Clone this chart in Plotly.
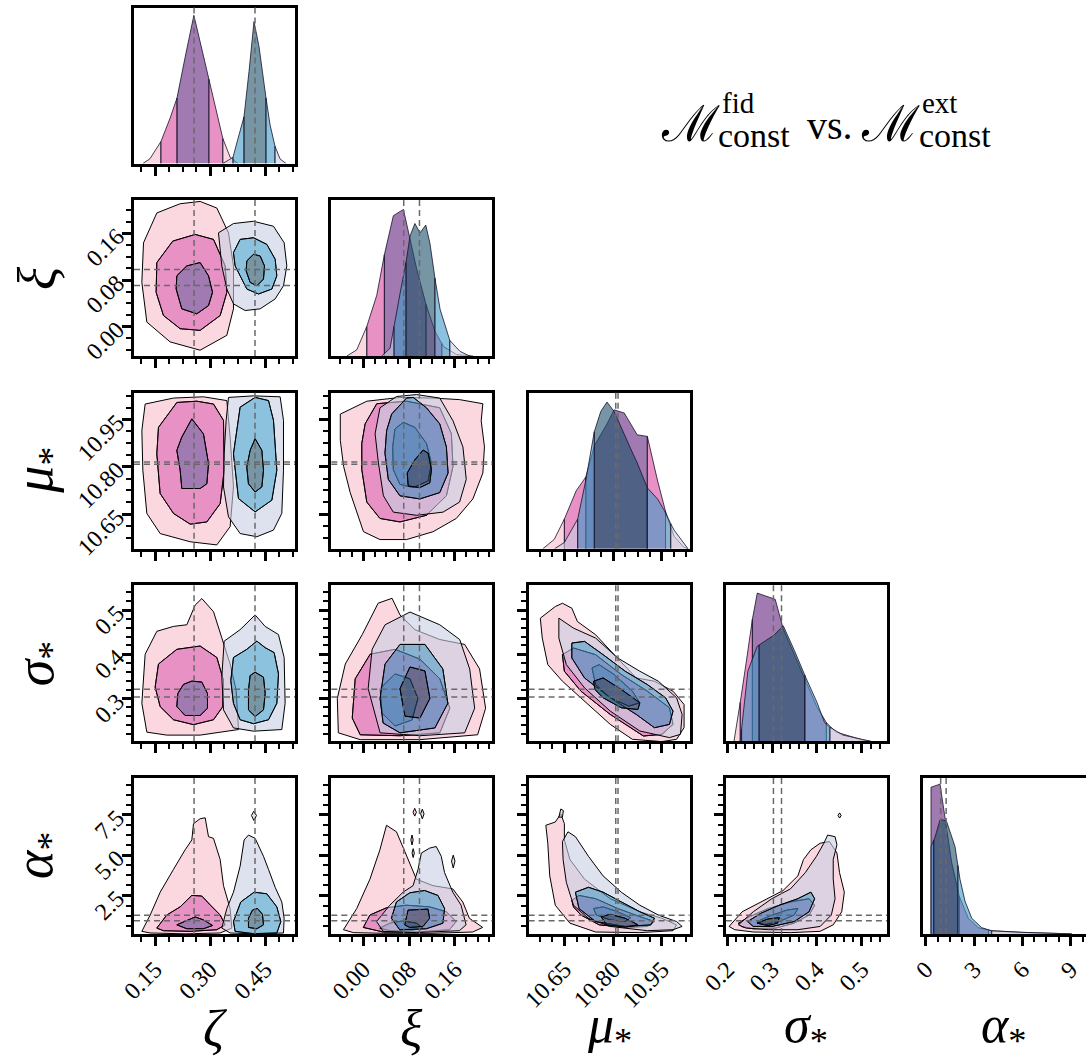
import numpy as np
import plotly.graph_objects as go

W, H = 1086, 1060

# ---------------- labels & ticks ----------------
AXIS_LABELS = ["<i>ζ</i>", "<i>ξ</i>", "<i>μ</i><sub>*</sub>", "<i>σ</i><sub>*</sub>", "<i>α</i><sub>*</sub>"]

ZETA_TICKS = [0.15, 0.30, 0.45]
ZETA_TEXT = ["0.15", "0.30", "0.45"]
XI_TICKS = [0.00, 0.08, 0.16]
XI_TEXT = ["0.00", "0.08", "0.16"]
MU_TICKS = [10.65, 10.80, 10.95]
MU_TEXT = ["10.65", "10.80", "10.95"]
SIGMA_TICKS = [0.2, 0.3, 0.4, 0.5]
SIGMA_TEXT = ["0.2", "0.3", "0.4", "0.5"]
ALPHA_TICKS = [2.5, 5.0, 7.5]
ALPHA_TEXT = ["2.5", "5.0", "7.5"]
ALPHA_DIAG_TICKS = [0, 3, 6, 9]
ALPHA_DIAG_TEXT = ["0", "3", "6", "9"]

# medians (dashed lines): [zeta, xi, mu, sigma, alpha]
FID_MEDIAN = [0.2565, 0.0705, 10.815, 0.303, 0.93]
EXT_MEDIAN = [0.4227, 0.0980, 10.808, 0.321, 1.27]

# ---------------- 1D marginals (x, density, [2s-lo, 1s-lo, 1s-hi, 2s-hi]) ----------------
ZETA_FID_X = [0.117, 0.136, 0.166, 0.191, 0.210, 0.232, 0.256, 0.273, 0.297, 0.314, 0.335, 0.355, 0.376]
ZETA_FID_D = [0.0, 0.03, 0.14, 0.29, 0.42, 0.68, 0.95, 0.78, 0.54, 0.37, 0.16, 0.04, 0.0]
ZETA_FID_Q = [0.166, 0.210, 0.297, 0.335]
ZETA_EXT_X = [0.3355, 0.3627, 0.3764, 0.3927, 0.4064, 0.420, 0.4336, 0.4527, 0.4636, 0.4773, 0.4909, 0.5073]
ZETA_EXT_D = [0.0, 0.04, 0.16, 0.30, 0.59, 0.91, 0.75, 0.42, 0.25, 0.11, 0.03, 0.0]
ZETA_EXT_Q = [0.3627, 0.3927, 0.4527, 0.4773]

XI_FID_X = [-0.029, -0.0116, 0.006, 0.0234, 0.0367, 0.0524, 0.070, 0.0815, 0.093, 0.1095, 0.125, 0.140, 0.163, 0.192]
XI_FID_D = [0.0, 0.04, 0.19, 0.39, 0.65, 0.90, 0.94, 0.75, 0.56, 0.33, 0.16, 0.06, 0.01, 0.0]
XI_FID_Q = [0.006, 0.0367, 0.1095, 0.137]
XI_EXT_X = [0.032, 0.0466, 0.0536, 0.064, 0.0745, 0.0815, 0.090, 0.099, 0.109, 0.1164, 0.125, 0.134, 0.151, 0.169, 0.186]
XI_EXT_D = [0.0, 0.05, 0.19, 0.40, 0.60, 0.77, 0.85, 0.79, 0.84, 0.72, 0.50, 0.30, 0.10, 0.03, 0.0]
XI_EXT_Q = [0.0536, 0.0745, 0.125, 0.151]

MU_FID_X = [10.584, 10.619, 10.650, 10.686, 10.716, 10.742, 10.781, 10.803, 10.834, 10.854, 10.874, 10.905, 10.936, 10.956, 10.987, 11.017, 11.03]
MU_FID_D = [0.0, 0.06, 0.19, 0.37, 0.46, 0.66, 0.80, 0.89, 0.87, 0.80, 0.73, 0.72, 0.44, 0.27, 0.08, 0.01, 0.0]
MU_FID_Q = [10.650, 10.716, 10.905, 10.961]
MU_EXT_X = [10.62, 10.65, 10.691, 10.716, 10.742, 10.762, 10.781, 10.803, 10.834, 10.854, 10.874, 10.905, 10.936, 10.956, 10.977, 10.987, 11.017, 11.03]
MU_EXT_D = [0.0, 0.04, 0.19, 0.44, 0.75, 0.88, 0.94, 0.88, 0.73, 0.64, 0.55, 0.39, 0.32, 0.25, 0.16, 0.12, 0.04, 0.0]
MU_EXT_Q = [10.691, 10.742, 10.905, 10.977]

SIGMA_FID_X = [0.215, 0.229, 0.242, 0.254, 0.267, 0.2875, 0.307, 0.325, 0.35, 0.373, 0.40, 0.421, 0.442, 0.475, 0.50, 0.52]
SIGMA_FID_D = [0.0, 0.25, 0.50, 0.75, 0.95, 0.93, 0.91, 0.72, 0.55, 0.40, 0.22, 0.12, 0.06, 0.03, 0.01, 0.0]
SIGMA_FID_Q = [0.229, 0.256, 0.373, 0.421]
SIGMA_EXT_X = [0.229, 0.246, 0.267, 0.304, 0.325, 0.35, 0.375, 0.40, 0.417, 0.429, 0.458, 0.50, 0.52]
SIGMA_EXT_D = [0.0, 0.45, 0.61, 0.68, 0.74, 0.58, 0.41, 0.25, 0.12, 0.09, 0.04, 0.01, 0.0]
SIGMA_EXT_Q = [0.232, 0.271, 0.373, 0.429]

ALPHA_FID_X = [0.33, 0.89, 1.2, 1.61, 2.09, 2.65, 3.27, 4.1, 5.96, 9.07]
ALPHA_FID_D = [0.94, 0.96, 0.73, 0.46, 0.24, 0.10, 0.04, 0.02, 0.01, 0.0]
ALPHA_FID_Q = [0.33, 0.33, 2.09, 3.9]
ALPHA_EXT_X = [0.33, 0.58, 0.89, 1.10, 1.30, 1.82, 2.13, 2.44, 2.86, 3.48, 4.1, 5.96, 9.07]
ALPHA_EXT_D = [0.56, 0.62, 0.73, 0.73, 0.72, 0.56, 0.35, 0.21, 0.10, 0.04, 0.02, 0.01, 0.0]
ALPHA_EXT_Q = [0.33, 0.5, 2.0, 4.1]

# ---------------- 2D contours: [outer, middle, inner] rings of (x, y) ----------------
ZETA_XI_FID = [
    [(0.155, 0.195), (0.2186, 0.2108), (0.273, 0.2147), (0.3186, 0.2034), (0.3504, 0.1609), (0.364, 0.1042), (0.364, 0.0306), (0.3459, -0.0148), (0.273, -0.0403), (0.1913, -0.0261), (0.1277, 0.0079), (0.1141, 0.0759), (0.1186, 0.1439)],
    [(0.155, 0.1099), (0.1984, 0.1467), (0.2595, 0.1581), (0.3095, 0.1496), (0.3413, 0.1042), (0.3459, 0.0589), (0.3277, 0.0192), (0.273, -0.0063), (0.2186, -0.0034), (0.1731, 0.0192), (0.1531, 0.0589)],
    [(0.2095, 0.0872), (0.2368, 0.1042), (0.273, 0.1099), (0.2959, 0.0872), (0.3068, 0.0589), (0.2959, 0.0362), (0.264, 0.0221), (0.2231, 0.0306), (0.2077, 0.0646)],
]
ZETA_XI_EXT = [
    [(0.3231, 0.1609), (0.364, 0.1768), (0.4186, 0.1807), (0.4731, 0.1722), (0.5022, 0.1439), (0.5095, 0.1042), (0.5004, 0.0702), (0.4777, 0.0476), (0.4368, 0.0306), (0.3959, 0.0277), (0.364, 0.0391), (0.3459, 0.0646), (0.3322, 0.1042)],
    [(0.364, 0.1269), (0.3822, 0.1496), (0.4186, 0.1524), (0.4549, 0.1411), (0.4777, 0.1156), (0.4822, 0.0872), (0.4686, 0.0646), (0.4322, 0.0561), (0.4004, 0.0646), (0.3822, 0.0872), (0.3686, 0.1042)],
    [(0.4004, 0.1127), (0.4186, 0.1241), (0.4368, 0.1212), (0.4486, 0.1042), (0.4458, 0.0816), (0.4277, 0.0702), (0.4095, 0.0759), (0.3986, 0.0957)],
]
ZETA_MU_FID = [
    [(0.1231, 10.999), (0.2004, 11.018), (0.2822, 11.022), (0.3459, 11.010), (0.3549, 10.894), (0.364, 10.736), (0.3549, 10.610), (0.3186, 10.552), (0.2459, 10.562), (0.1641, 10.588), (0.1277, 10.652), (0.1168, 10.789), (0.1141, 10.915)],
    [(0.1595, 10.925), (0.2095, 11.004), (0.264, 11.008), (0.3095, 10.999), (0.3368, 10.947), (0.3386, 10.789), (0.3277, 10.683), (0.2913, 10.625), (0.2459, 10.618), (0.2004, 10.652), (0.1641, 10.715), (0.155, 10.841)],
    [(0.2504, 10.952), (0.2822, 10.904), (0.2959, 10.810), (0.2913, 10.746), (0.273, 10.731), (0.2231, 10.731), (0.2186, 10.789), (0.2095, 10.852), (0.2231, 10.894)],
]
ZETA_MU_EXT = [
    [(0.3504, 11.020), (0.4186, 11.025), (0.4913, 11.022), (0.5004, 10.947), (0.5004, 10.789), (0.4958, 10.652), (0.4731, 10.599), (0.4277, 10.578), (0.3822, 10.588), (0.3504, 10.641), (0.3368, 10.736), (0.3386, 10.841), (0.344, 10.947)],
    [(0.3822, 10.989), (0.4231, 11.020), (0.4595, 11.010), (0.4731, 10.947), (0.4822, 10.789), (0.4686, 10.694), (0.4231, 10.657), (0.3777, 10.699), (0.364, 10.841)],
    [(0.4231, 10.889), (0.4413, 10.852), (0.4458, 10.789), (0.4413, 10.736), (0.4231, 10.720), (0.4049, 10.746), (0.4004, 10.799), (0.4095, 10.852)],
]
ZETA_SIGMA_FID = [
    [(0.2777, 0.526), (0.3095, 0.4963), (0.3322, 0.4371), (0.3549, 0.3778), (0.3713, 0.3185), (0.3777, 0.2296), (0.273, 0.217), (0.1822, 0.217), (0.1277, 0.2237), (0.1141, 0.2889), (0.1231, 0.40), (0.155, 0.4519), (0.2004, 0.463), (0.2368, 0.4667), (0.2595, 0.5112)],
    [(0.1595, 0.3778), (0.2095, 0.4111), (0.273, 0.4185), (0.3186, 0.3926), (0.3368, 0.3407), (0.3349, 0.2815), (0.3095, 0.2518), (0.255, 0.2407), (0.2004, 0.2518), (0.1641, 0.2815), (0.1504, 0.3259)],
    [(0.2504, 0.3392), (0.2777, 0.337), (0.2931, 0.3111), (0.2931, 0.2777), (0.273, 0.2614), (0.2322, 0.2614), (0.2095, 0.2815), (0.2122, 0.3111), (0.2277, 0.3318)],
]
ZETA_SIGMA_EXT = [
    [(0.3386, 0.4296), (0.3822, 0.4556), (0.4231, 0.4889), (0.4504, 0.463), (0.4867, 0.4445), (0.5022, 0.3926), (0.5049, 0.2889), (0.4958, 0.2296), (0.4186, 0.2259), (0.364, 0.2333), (0.3368, 0.274), (0.3322, 0.3481)],
    [(0.364, 0.3926), (0.4004, 0.4111), (0.4277, 0.4296), (0.4504, 0.4148), (0.4749, 0.4037), (0.4867, 0.3555), (0.4822, 0.2889), (0.4595, 0.2518), (0.4186, 0.2429), (0.3822, 0.2518), (0.364, 0.2889), (0.3568, 0.3407)],
    [(0.4231, 0.3593), (0.4458, 0.3481), (0.4504, 0.3111), (0.4458, 0.274), (0.4231, 0.2592), (0.4049, 0.274), (0.4049, 0.3185), (0.4095, 0.3518)],
]
ZETA_ALPHA_FID = [
    [(0.1141, 0.274), (0.1368, 1.286), (0.1641, 2.702), (0.2004, 4.119), (0.2322, 5.334), (0.2504, 5.941), (0.255, 6.953), (0.273, 7.256), (0.2868, 7.317), (0.2959, 6.143), (0.3095, 6.042), (0.3277, 4.726), (0.3368, 3.107), (0.3549, 1.690), (0.3595, 0.476), (0.3277, 0.172), (0.2322, 0.12), (0.1368, 0.172)],
    [(0.155, 0.476), (0.1822, 1.286), (0.2186, 1.792), (0.2504, 2.5), (0.2777, 2.46), (0.3004, 1.893), (0.3277, 1.286), (0.3413, 0.678), (0.3186, 0.375), (0.2459, 0.274), (0.1731, 0.314)],
    [(0.2095, 0.678), (0.2368, 0.942), (0.2595, 1.164), (0.2822, 0.982), (0.3068, 0.638), (0.2822, 0.436), (0.2368, 0.436)],
]
ZETA_ALPHA_EXT = [
    [(0.3322, 0.476), (0.3459, 1.690), (0.364, 2.702), (0.3822, 4.322), (0.3931, 5.941), (0.4049, 6.245), (0.4231, 6.042), (0.4458, 4.929), (0.4595, 4.119), (0.4777, 3.006), (0.4958, 2.095), (0.5022, 1.083), (0.5004, 0.172), (0.4186, 0.12), (0.3549, 0.172)],
    [(0.364, 0.881), (0.384, 2.095), (0.4204, 2.702), (0.4549, 2.601), (0.4822, 1.792), (0.4931, 0.881), (0.4822, 0.172), (0.4186, 0.132), (0.3686, 0.274)],
    [(0.4049, 1.083), (0.4158, 1.589), (0.4295, 1.690), (0.4431, 1.326), (0.4458, 0.678), (0.4277, 0.436), (0.4049, 0.517)],
]
ZETA_ALPHA_EXT_BLOBS = [
    [(0.4131, 7.459), (0.4195, 7.722), (0.4268, 7.459), (0.4195, 7.155)],
]
XI_MU_FID = [
    [(-0.0403, 10.967), (0.006, 11.008), (0.0639, 11.020), (0.1218, 11.018), (0.1681, 11.013), (0.2087, 11.000), (0.2058, 10.946), (0.2115, 10.863), (0.2087, 10.780), (0.1913, 10.698), (0.1623, 10.636), (0.1218, 10.594), (0.0755, 10.569), (0.029, 10.569), (0.0002, 10.594), (-0.0114, 10.656), (-0.023, 10.718), (-0.0345, 10.801), (-0.0403, 10.884)],
    [(0.0031, 10.936), (0.0234, 11.000), (0.0755, 11.008), (0.1334, 10.987), (0.1537, 10.905), (0.1565, 10.801), (0.145, 10.708), (0.1102, 10.646), (0.0639, 10.625), (0.029, 10.636), (0.006, 10.688), (-0.0027, 10.791), (-0.0027, 10.874)],
    [(0.0552, 10.920), (0.0697, 10.941), (0.090, 10.925), (0.1102, 10.874), (0.1189, 10.812), (0.1131, 10.755), (0.0871, 10.734), (0.0639, 10.744), (0.0523, 10.791), (0.0512, 10.863)],
]
XI_MU_EXT = [
    [(0.029, 10.987), (0.0581, 11.023), (0.0929, 11.029), (0.1334, 11.018), (0.1565, 10.946), (0.1739, 10.863), (0.1797, 10.760), (0.1681, 10.688), (0.1392, 10.656), (0.0929, 10.646), (0.0523, 10.656), (0.035, 10.708), (0.0263, 10.812), (0.0205, 10.905)],
    [(0.0494, 10.967), (0.0755, 11.018), (0.0871, 11.020), (0.1102, 10.987), (0.1334, 10.936), (0.145, 10.863), (0.1479, 10.780), (0.1334, 10.718), (0.0986, 10.698), (0.0639, 10.708), (0.0436, 10.760), (0.0378, 10.843), (0.0407, 10.915)],
    [(0.090, 10.822), (0.1044, 10.853), (0.1131, 10.843), (0.1189, 10.791), (0.116, 10.749), (0.0986, 10.734), (0.0784, 10.739), (0.0766, 10.780)],
]
XI_SIGMA_FID = [
    [(-0.0437, 0.2222), (-0.0455, 0.30), (-0.0316, 0.3778), (-0.002, 0.4444), (0.0258, 0.5155), (0.0501, 0.5266), (0.064, 0.4889), (0.0901, 0.4555), (0.1335, 0.4333), (0.177, 0.4222), (0.203, 0.3667), (0.2135, 0.2778), (0.1996, 0.2178), (0.0988, 0.2067), (-0.0055, 0.2067)],
    [(-0.0194, 0.2556), (-0.0142, 0.3444), (0.0119, 0.40), (0.0553, 0.4111), (0.0988, 0.3889), (0.1335, 0.3444), (0.151, 0.2778), (0.1335, 0.2222), (0.064, 0.2156), (-0.0055, 0.2178)],
    [(0.0292, 0.3222), (0.0553, 0.3555), (0.0814, 0.3444), (0.0953, 0.30), (0.0849, 0.2511), (0.0553, 0.2378), (0.0327, 0.2667)],
]
XI_SIGMA_EXT = [
    [(0.0084, 0.3222), (0.0153, 0.4111), (0.0379, 0.4666), (0.0814, 0.4955), (0.1335, 0.4666), (0.1683, 0.4333), (0.1857, 0.3667), (0.1944, 0.2778), (0.177, 0.2222), (0.0988, 0.2156), (0.0292, 0.2222)],
    [(0.0292, 0.30), (0.0379, 0.3778), (0.064, 0.4222), (0.1075, 0.4222), (0.1388, 0.3667), (0.1475, 0.2889), (0.1249, 0.2333), (0.064, 0.2222), (0.0345, 0.2444)],
    [(0.064, 0.3222), (0.0814, 0.3711), (0.1075, 0.3622), (0.1162, 0.30), (0.0988, 0.2556), (0.0727, 0.26)],
]
XI_ALPHA_FID = [
    [(-0.0348, 0.375), (-0.0116, 1.690), (0.0115, 3.512), (0.0289, 5.334), (0.0404, 6.852), (0.0578, 6.447), (0.0723, 5.232), (0.0926, 3.512), (0.1215, 3.107), (0.1562, 2.905), (0.1736, 2.095), (0.1852, 1.083), (0.2084, 0.517), (0.191, 0.233), (0.1215, 0.152), (0.0347, 0.152), (-0.0174, 0.193)],
    [(0.0, 0.517), (0.0115, 1.286), (0.0404, 1.731), (0.0752, 1.893), (0.1157, 1.792), (0.1447, 1.488), (0.1621, 0.881), (0.1505, 0.375), (0.0926, 0.233), (0.0347, 0.233)],
    [(0.0289, 0.476), (0.0462, 0.780), (0.0694, 0.921), (0.0926, 0.780), (0.1041, 0.476), (0.081, 0.314), (0.0462, 0.314)],
]
XI_ALPHA_FID_BLOBS = [
    [(0.0868, 7.66), (0.0897, 7.90), (0.0926, 7.66), (0.0897, 7.42)],
    [(0.083, 5.94), (0.085, 6.25), (0.087, 5.94), (0.085, 5.63)],
    [(0.085, 5.13), (0.087, 5.40), (0.089, 5.13), (0.087, 4.85)],
]
XI_ALPHA_EXT = [
    [(0.0231, 0.881), (0.0462, 1.893), (0.0694, 2.702), (0.0868, 3.107), (0.0955, 4.119), (0.1013, 5.131), (0.1157, 5.435), (0.1273, 5.536), (0.136, 4.929), (0.1418, 3.917), (0.1562, 2.702), (0.1707, 1.893), (0.1794, 0.678), (0.1678, 0.314), (0.0926, 0.193), (0.0347, 0.274)],
    [(0.0491, 1.083), (0.0578, 2.095), (0.081, 2.662), (0.107, 2.804), (0.1302, 2.5), (0.1418, 1.690), (0.1389, 0.780), (0.1099, 0.436), (0.0636, 0.375)],
    [(0.0723, 0.678), (0.0781, 1.589), (0.1128, 1.650), (0.1157, 1.083), (0.1041, 0.577), (0.081, 0.517)],
]
XI_ALPHA_EXT_BLOBS = [
    [(0.100, 7.56), (0.103, 7.85), (0.106, 7.56), (0.103, 7.25)],
    [(0.154, 4.63), (0.157, 5.00), (0.160, 4.63), (0.157, 4.20)],
]
MU_SIGMA_FID = [
    [(10.576, 0.4816), (10.622, 0.5079), (10.644, 0.5154), (10.673, 0.5042), (10.690, 0.4741), (10.746, 0.4441), (10.803, 0.399), (10.871, 0.3464), (10.927, 0.3389), (10.984, 0.3164), (11.018, 0.2864), (11.018, 0.2338), (10.995, 0.2075), (10.950, 0.2023), (10.859, 0.2075), (10.791, 0.2413), (10.724, 0.2864), (10.644, 0.3389), (10.599, 0.3765), (10.582, 0.4366)],
    [(10.644, 0.399), (10.678, 0.414), (10.746, 0.399), (10.825, 0.354), (10.905, 0.3164), (10.973, 0.2789), (10.984, 0.2413), (10.950, 0.2188), (10.893, 0.215), (10.791, 0.2638), (10.701, 0.3164), (10.650, 0.3615)],
    [(10.735, 0.369), (10.757, 0.3765), (10.803, 0.354), (10.859, 0.3164), (10.882, 0.2901), (10.848, 0.2826), (10.791, 0.3014), (10.746, 0.3314)],
]
MU_SIGMA_EXT = [
    [(10.633, 0.4816), (10.678, 0.4591), (10.746, 0.4366), (10.814, 0.3915), (10.882, 0.3615), (10.939, 0.3389), (10.995, 0.3014), (11.012, 0.2638), (11.007, 0.2188), (10.973, 0.2113), (10.882, 0.2263), (10.791, 0.2713), (10.712, 0.3239), (10.656, 0.3765), (10.633, 0.4366)],
    [(10.673, 0.4253), (10.712, 0.429), (10.769, 0.399), (10.837, 0.3615), (10.905, 0.3314), (10.961, 0.3014), (10.984, 0.2713), (10.973, 0.2413), (10.927, 0.2338), (10.871, 0.2638), (10.791, 0.3014), (10.712, 0.3464), (10.673, 0.3915)],
    [(10.740, 0.3389), (10.769, 0.3464), (10.825, 0.3202), (10.882, 0.2901), (10.876, 0.2751), (10.825, 0.2789), (10.769, 0.3014), (10.744, 0.3202)],
]
MU_ALPHA_FID = [
    [(10.593, 6.852), (10.622, 7.054), (10.639, 7.560), (10.650, 6.953), (10.650, 5.941), (10.667, 4.726), (10.712, 3.512), (10.791, 2.298), (10.882, 1.488), (10.950, 1.083), (10.995, 0.678), (10.984, 0.314), (10.882, 0.193), (10.746, 0.233), (10.667, 0.780), (10.622, 1.893), (10.605, 3.714), (10.599, 5.738)],
    [(10.673, 2.196), (10.695, 2.5), (10.746, 2.298), (10.814, 1.690), (10.882, 1.184), (10.927, 0.881), (10.905, 0.577), (10.837, 0.517), (10.757, 0.678), (10.701, 1.286), (10.678, 1.792)],
    [(10.740, 1.690), (10.769, 1.792), (10.814, 1.488), (10.854, 1.123), (10.837, 0.881), (10.791, 0.982), (10.748, 1.286)],
]
MU_ALPHA_EXT = [
    [(10.644, 5.840), (10.661, 6.447), (10.684, 6.143), (10.724, 4.929), (10.769, 3.714), (10.825, 2.702), (10.882, 1.893), (10.939, 1.286), (10.995, 0.881), (11.012, 0.577), (10.984, 0.375), (10.905, 0.314), (10.791, 0.577), (10.724, 1.083), (10.678, 1.893), (10.656, 3.310), (10.646, 4.726)],
    [(10.684, 2.702), (10.724, 3.006), (10.769, 2.702), (10.825, 2.095), (10.882, 1.488), (10.927, 1.083), (10.916, 0.678), (10.837, 0.577), (10.746, 0.881), (10.695, 1.690)],
    [(10.763, 1.184), (10.791, 1.326), (10.837, 1.083), (10.876, 0.678), (10.837, 0.537), (10.780, 0.678)],
]
MU_ALPHA_EXT_BLOBS = [
    [(10.633, 7.357), (10.639, 7.863), (10.647, 7.762), (10.644, 7.357)],
]
SIGMA_ALPHA_FID = [
    [(0.2041, 0.577), (0.2332, 1.488), (0.2746, 2.095), (0.3244, 2.804), (0.3575, 3.714), (0.370, 4.726), (0.3865, 5.334), (0.4072, 5.738), (0.4279, 5.840), (0.4446, 5.131), (0.4504, 3.917), (0.4611, 2.702), (0.4553, 1.488), (0.4363, 0.678), (0.4072, 0.274), (0.3409, 0.193), (0.258, 0.233), (0.2166, 0.375)],
    [(0.2249, 0.780), (0.2497, 1.184), (0.2912, 1.690), (0.3409, 2.095), (0.3824, 2.298), (0.3948, 1.893), (0.3824, 1.286), (0.3492, 0.780), (0.3078, 0.476), (0.258, 0.436), (0.2315, 0.577)],
    [(0.2663, 0.881), (0.2912, 1.184), (0.3326, 1.589), (0.3575, 1.690), (0.3492, 1.286), (0.3161, 0.881), (0.2829, 0.678)],
]
SIGMA_ALPHA_EXT = [
    [(0.2249, 0.678), (0.258, 1.488), (0.2995, 2.298), (0.3409, 2.905), (0.3741, 3.917), (0.399, 4.929), (0.4155, 5.738), (0.4238, 6.245), (0.4404, 6.143), (0.4446, 5.637), (0.4363, 4.726), (0.4363, 3.512), (0.4404, 2.298), (0.4321, 1.286), (0.4072, 0.577), (0.3575, 0.375), (0.2912, 0.375), (0.2415, 0.476)],
    [(0.2456, 0.881), (0.2746, 1.387), (0.3161, 1.893), (0.3575, 2.298), (0.3865, 2.702), (0.3948, 2.298), (0.3824, 1.488), (0.3492, 0.881), (0.2995, 0.577), (0.258, 0.577)],
    [(0.2663, 0.780), (0.2912, 1.043), (0.3161, 1.123), (0.3119, 0.780), (0.2912, 0.638)],
]
SIGMA_ALPHA_EXT_BLOBS = [
    [(0.447, 7.459), (0.4504, 7.62), (0.454, 7.459), (0.4504, 7.30)],
]

# ---------------- styling ----------------
FID_FILL = ["rgba(248,188,203,0.6)", "rgba(215,72,157,0.6)", "rgba(97,33,123,0.6)"]
EXT_FILL = ["rgba(200,207,227,0.6)", "rgba(63,153,198,0.6)", "rgba(27,80,107,0.6)"]
SERIF = "Liberation Serif, Times New Roman, DejaVu Serif, serif"

X_RANGE = [[0.0927, 0.5318], [-0.056, 0.2252], [10.54, 11.035], [0.197, 0.556], [-0.155, 9.956]]
Y_RANGE = [None, [-0.0504, 0.217], [10.54, 11.035], [0.203, 0.556], [0.115, 9.79]]
TICKS = [(ZETA_TICKS, ZETA_TEXT), (XI_TICKS, XI_TEXT), (MU_TICKS, MU_TEXT), (SIGMA_TICKS, SIGMA_TEXT), (ALPHA_TICKS, ALPHA_TEXT)]
MINOR = [(0.15, 0.0375), (0.0, 0.02), (10.65, 0.0375), (0.2, 0.02), (0.0, 0.625)]

COL_LEFT = [134 + 197.3 * c for c in range(5)]
COL_W = 161
ROW_TOP = [7.5 + 192.6 * r for r in range(5)]
ROW_H = 156

DIAG = [
    (ZETA_FID_X, ZETA_FID_D, ZETA_FID_Q, ZETA_EXT_X, ZETA_EXT_D, ZETA_EXT_Q),
    (XI_FID_X, XI_FID_D, XI_FID_Q, XI_EXT_X, XI_EXT_D, XI_EXT_Q),
    (MU_FID_X, MU_FID_D, MU_FID_Q, MU_EXT_X, MU_EXT_D, MU_EXT_Q),
    (SIGMA_FID_X, SIGMA_FID_D, SIGMA_FID_Q, SIGMA_EXT_X, SIGMA_EXT_D, SIGMA_EXT_Q),
    (ALPHA_FID_X, ALPHA_FID_D, ALPHA_FID_Q, ALPHA_EXT_X, ALPHA_EXT_D, ALPHA_EXT_Q),
]
PAIRS = {
    (1, 0): (ZETA_XI_FID, ZETA_XI_EXT, [], []),
    (2, 0): (ZETA_MU_FID, ZETA_MU_EXT, [], []),
    (3, 0): (ZETA_SIGMA_FID, ZETA_SIGMA_EXT, [], []),
    (4, 0): (ZETA_ALPHA_FID, ZETA_ALPHA_EXT, [], ZETA_ALPHA_EXT_BLOBS),
    (2, 1): (XI_MU_FID, XI_MU_EXT, [], []),
    (3, 1): (XI_SIGMA_FID, XI_SIGMA_EXT, [], []),
    (4, 1): (XI_ALPHA_FID, XI_ALPHA_EXT, XI_ALPHA_FID_BLOBS, XI_ALPHA_EXT_BLOBS),
    (3, 2): (MU_SIGMA_FID, MU_SIGMA_EXT, [], []),
    (4, 2): (MU_ALPHA_FID, MU_ALPHA_EXT, [], MU_ALPHA_EXT_BLOBS),
    (4, 3): (SIGMA_ALPHA_FID, SIGMA_ALPHA_EXT, [], SIGMA_ALPHA_EXT_BLOBS),
}


def signed_area(pts):
    a = 0.0
    for i in range(len(pts)):
        x1, y1 = pts[i]
        x2, y2 = pts[(i + 1) % len(pts)]
        a += x1 * y2 - x2 * y1
    return a / 2


def oriented(pts, ccw):
    return pts if (signed_area(pts) > 0) == ccw else pts[::-1]


def closed(pts):
    return [p[0] for p in pts] + [pts[0][0]], [p[1] for p in pts] + [pts[0][1]]


def band(outer, inner):
    xs, ys = closed(oriented(outer, True))
    if inner is not None:
        xi, yi = closed(oriented(inner, False))
        xs = xs + [None] + xi
        ys = ys + [None] + yi
    return xs, ys


fig = go.Figure()


def add_poly(xs, ys, color, n, lc="black", lw=1.0):
    sid = "" if n == 1 else str(n)
    fig.add_trace(go.Scatter(x=xs, y=ys, mode="lines", fill="toself", fillcolor=color,
                             line=dict(color=lc, width=lw), xaxis="x" + sid, yaxis="y" + sid,
                             hoverinfo="skip", showlegend=False))


def seg_poly(x, d, lo, hi):
    x = np.asarray(x, float)
    d = np.asarray(d, float)
    m = (x > lo) & (x < hi)
    xs = [lo, lo] + list(x[m]) + [hi, hi]
    ys = [0.0, float(np.interp(lo, x, d))] + list(d[m]) + [float(np.interp(hi, x, d)), 0.0]
    return xs, ys


panels = [(r, c) for r in range(5) for c in range(r + 1)]
layout = {}
shapes = []
for n, (r, c) in enumerate(panels, start=1):
    sid = "" if n == 1 else str(n)
    left = COL_LEFT[c]
    right = min(left + COL_W, W) if c < 4 else W
    top = ROW_TOP[r]
    bot = top + ROW_H
    xd = [left / W, right / W]
    yd = [1 - bot / H, 1 - top / H]

    # data
    if r == c:
        fx, fd, fq, ex, ed, eq = DIAG[c]
        for (xx, dd, qq, fills) in ((fx, fd, fq, FID_FILL), (ex, ed, eq, EXT_FILL)):
            edges = [xx[0]] + list(qq) + [xx[-1]]
            cols = [fills[0], fills[1], fills[2], fills[1], fills[0]]
            for k in range(5):
                if edges[k + 1] - edges[k] <= 1e-9:
                    continue
                px, py = seg_poly(xx, dd, edges[k], edges[k + 1])
                add_poly(px, py, cols[k], n, lc="rgba(25,20,45,0.9)", lw=0.9)
    else:
        fid, ext, fblobs, eblobs = PAIRS[(r, c)]
        for rings, blobs, fills in ((fid, fblobs, FID_FILL), (ext, eblobs, EXT_FILL)):
            bx, by = band(rings[0], rings[1])
            add_poly(bx, by, fills[0], n)
            for b in blobs:
                xs, ys = closed(b)
                add_poly(xs, ys, fills[0], n)
            bx, by = band(rings[1], rings[2])
            add_poly(bx, by, fills[1], n)
            bx, by = band(rings[2], None)
            add_poly(bx, by, fills[2], n)

    # median lines
    dash = dict(color="rgb(105,105,105)", width=1.5, dash="6px,4px")
    for m in (FID_MEDIAN[c], EXT_MEDIAN[c]):
        shapes.append(dict(type="line", xref="x" + sid, yref="y" + sid + " domain", x0=m, x1=m, y0=0, y1=1, line=dash))
    if r != c:
        for m in (FID_MEDIAN[r], EXT_MEDIAN[r]):
            shapes.append(dict(type="line", xref="x" + sid + " domain", yref="y" + sid, x0=0, x1=1, y0=m, y1=m, line=dash))

    # axes
    if c == 4:
        tv, tt = ALPHA_DIAG_TICKS, ALPHA_DIAG_TEXT
        m0, md = 0.0, 0.75
    else:
        tv, tt = TICKS[c]
        m0, md = MINOR[c]
    xa = dict(domain=xd, range=X_RANGE[c], anchor="y" + sid, showline=True, mirror=True,
              linecolor="black", linewidth=3, showgrid=False, zeroline=False, automargin=False,
              tickmode="array", tickvals=tv, ticktext=tt, ticks="outside", ticklen=9,
              tickwidth=2.5, tickcolor="black", showticklabels=(r == 4), tickangle=-45,
              tickfont=dict(family=SERIF, size=24, color="black"),
              minor=dict(ticks="outside", ticklen=5, tickwidth=2, tickcolor="black",
                         tick0=m0, dtick=md, showgrid=False))
    if r == c:
        ya = dict(domain=yd, range=[0, 1.0], anchor="x" + sid, showline=True, mirror=(c != 4),
                  linecolor="black", linewidth=3, showgrid=False, zeroline=False, automargin=False,
                  ticks="", showticklabels=False)
    else:
        ytv, ytt = TICKS[r]
        ym0, ymd = MINOR[r]
        ya = dict(domain=yd, range=Y_RANGE[r], anchor="x" + sid, showline=True, mirror=True,
                  linecolor="black", linewidth=3, showgrid=False, zeroline=False, automargin=False,
                  tickmode="array", tickvals=ytv, ticktext=ytt, ticks="outside", ticklen=9,
                  tickwidth=2.5, tickcolor="black", showticklabels=(c == 0), tickangle=-45,
                  tickfont=dict(family=SERIF, size=24, color="black"),
                  minor=dict(ticks="outside", ticklen=5, tickwidth=2, tickcolor="black",
                             tick0=ym0, dtick=ymd, showgrid=False))
    layout["xaxis" + sid] = xa
    layout["yaxis" + sid] = ya

annotations = []
# axis titles
for c in range(5):
    cx = (COL_LEFT[c] + COL_W / 2) / W
    annotations.append(dict(text=AXIS_LABELS[c], x=cx, y=1 - 1028 / H, xref="paper", yref="paper",
                            showarrow=False, xanchor="center", yanchor="middle",
                            font=dict(family=SERIF, size=52, color="black")))
for r in range(1, 5):
    cy = 1 - (ROW_TOP[r] + ROW_H / 2) / H
    annotations.append(dict(text=AXIS_LABELS[r], x=38 / W, y=cy, xref="paper", yref="paper",
                            showarrow=False, xanchor="center", yanchor="middle", textangle=-90,
                            font=dict(family=SERIF, size=54, color="black")))

# title pieces: M^fid_const vs. M^ext_const
TITLE_PARTS = [
    ("ℳ", 660, 124, 50), ("fid", 721, 103, 29), ("const", 717, 136, 34),
    ("vs.", 806, 125, 40),
    ("ℳ", 860, 124, 50), ("ext", 921, 103, 29), ("const", 918, 136, 34),
]
for txt, x, y, s in TITLE_PARTS:
    annotations.append(dict(text=txt, x=x / W, y=1 - y / H, xref="paper", yref="paper", showarrow=False,
                            xanchor="left", yanchor="middle", borderpad=0,
                            font=dict(family=SERIF, size=s, color="black")))

fig.update_layout(width=W, height=H, margin=dict(l=0, r=0, t=0, b=0, autoexpand=False),
                  paper_bgcolor="white", plot_bgcolor="white", showlegend=False,
                  shapes=shapes, annotations=annotations, **layout)

fig.write_html("out.html")
